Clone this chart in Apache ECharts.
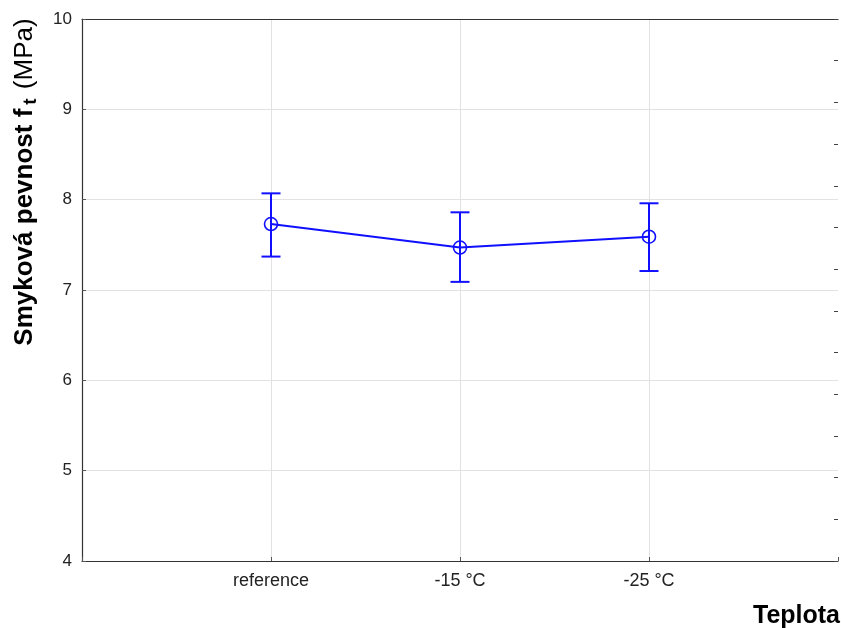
<!DOCTYPE html>
<html>
<head>
<meta charset="utf-8">
<script src="https://cdn.jsdelivr.net/npm/echarts@6/dist/echarts.min.js"></script>
<style>html,body{margin:0;padding:0;background:#fff;overflow:hidden;}#c{width:841px;height:628px;}</style>
</head>
<body>
<div id="c"></div>
<script>
var categories = ['reference', '-15 °C', '-25 °C'];
var means = [7.73, 7.47, 7.59];
var lower = [7.37, 7.09, 7.21];
var upper = [8.07, 7.86, 7.96];
var yTicks = [4, 5, 6, 7, 8, 9, 10];

var blue = '#1010ff';
var lineData = means.map(function (v, i) { return [i + 1, v]; });
var errData = means.map(function (v, i) { return [i + 1, lower[i], upper[i]]; });

var chart = echarts.init(document.getElementById('c'), null, {renderer: 'canvas', width: 841, height: 628});
chart.setOption({
  backgroundColor: '#ffffff',
  animation: false,
  grid: {left: 82, width: 759, top: 19, bottom: 67, containLabel: false},
  xAxis: [{
    type: 'value', min: 0, max: categories.length + 1, interval: 1,
    axisLine: {show: true, onZero: false, lineStyle: {color: '#333', width: 1.2}},
    axisTick: {show: true, inside: true, length: 4, lineStyle: {color: '#555'}},
    axisLabel: {
      fontFamily: 'Liberation Sans', fontSize: 18, color: '#222', margin: 11,
      formatter: function (v) { return categories[v - 1] || ''; }
    },
    splitLine: {show: true, showMinLine: false, showMaxLine: false, lineStyle: {color: '#e2e2e2', width: 1}}
  }, {
    type: 'value', position: 'top', min: 0, max: 4,
    axisLine: {show: true, onZero: false, lineStyle: {color: '#333', width: 1.2}},
    axisTick: {show: false}, axisLabel: {show: false}, splitLine: {show: false}
  }],
  yAxis: [{
    type: 'value', min: yTicks[0], max: yTicks[yTicks.length - 1], interval: 1,
    axisLine: {show: true, onZero: false, lineStyle: {color: '#333', width: 1.2}},
    axisTick: {show: true, inside: true, length: 4, lineStyle: {color: '#555'}},
    axisLabel: {fontFamily: 'Liberation Sans', fontSize: 17, color: '#222', margin: 10},
    splitLine: {show: true, lineStyle: {color: '#e2e2e2', width: 1}}
  }, {
    type: 'value', position: 'right', min: 0, max: 13, interval: 1,
    axisLine: {show: false, onZero: false},
    axisTick: {show: true, inside: true, length: 4, lineStyle: {color: '#444'}},
    axisLabel: {show: false}, splitLine: {show: false}
  }],
  series: [{
    type: 'custom',
    data: errData,
    z: 3,
    renderItem: function (params, api) {
      var x = api.value(0);
      var lo = api.coord([x, api.value(1)]);
      var hi = api.coord([x, api.value(2)]);
      var hw = 9.5;
      var st = {stroke: blue, lineWidth: 2};
      return {type: 'group', children: [
        {type: 'line', shape: {x1: lo[0], y1: lo[1], x2: hi[0], y2: hi[1]}, style: st},
        {type: 'line', shape: {x1: lo[0] - hw, y1: lo[1], x2: lo[0] + hw, y2: lo[1]}, style: st},
        {type: 'line', shape: {x1: hi[0] - hw, y1: hi[1], x2: hi[0] + hw, y2: hi[1]}, style: st}
      ]};
    }
  }, {
    type: 'line',
    data: lineData,
    z: 4,
    symbol: 'circle',
    symbolSize: 13,
    lineStyle: {color: blue, width: 2},
    itemStyle: {color: 'rgba(255,255,255,0)', borderColor: blue, borderWidth: 1.6}
  }],
  graphic: [{
    type: 'text',
    x: 25, y: 182,
    rotation: Math.PI / 2,
    style: {
      text: '{b|Smyková pevnost f}{s|t}{n| (MPa)}',
      align: 'center', verticalAlign: 'middle',
      rich: {
        b: {fontFamily: 'Liberation Sans', fontSize: 26, fontWeight: 'bold', fill: '#000'},
        s: {fontFamily: 'Liberation Sans', fontSize: 19, fontWeight: 'bold', fill: '#000', padding: [12, 2, 0, 4]},
        n: {fontFamily: 'Liberation Sans', fontSize: 26, fill: '#000'}
      }
    }
  }, {
    type: 'text',
    x: 840, y: 616,
    style: {
      text: 'Teplota', align: 'right', verticalAlign: 'middle',
      fontFamily: 'Liberation Sans', fontSize: 25, fontWeight: 'bold', fill: '#000'
    }
  }]
});
</script>
</body>
</html>
